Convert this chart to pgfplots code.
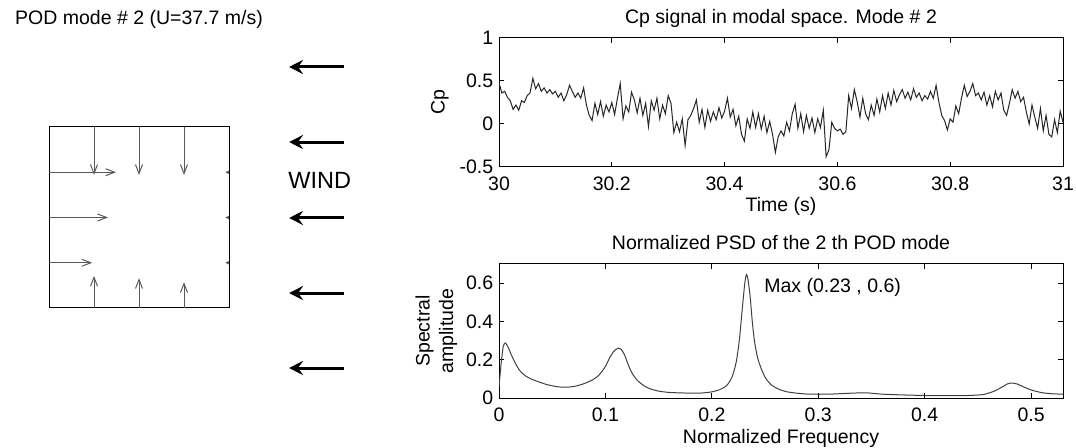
\documentclass[border=0pt]{standalone}
\usepackage{fontspec}
\setmainfont{Liberation Sans}
\usepackage{pgfplots}
\usepackage{pgfplotstable}
\pgfplotsset{compat=1.18}
\usetikzlibrary{arrows.meta}

% Cp signal, mode 2
\pgfplotstableread{
t cp
30.000 0.48
30.005 0.36
30.010 0.38
30.015 0.31
30.020 0.27
30.025 0.17
30.030 0.22
30.035 0.16
30.040 0.27
30.045 0.25
30.050 0.33
30.055 0.36
30.060 0.53
30.065 0.41
30.070 0.47
30.075 0.38
30.080 0.42
30.085 0.36
30.090 0.40
30.095 0.35
30.100 0.38
30.105 0.31
30.110 0.36
30.115 0.27
30.120 0.34
30.125 0.45
30.130 0.38
30.135 0.31
30.140 0.36
30.145 0.30
30.150 0.42
30.155 0.22
30.160 0.10
30.165 0.04
30.170 0.24
30.175 0.11
30.180 0.26
30.185 0.09
30.190 0.22
30.195 0.14
30.200 0.25
30.205 0.11
30.210 0.30
30.215 0.47
30.220 0.06
30.225 0.21
30.230 0.14
30.235 0.37
30.240 0.28
30.245 0.13
30.250 0.30
30.255 0.10
30.260 0.24
30.265 -0.03
30.270 0.27
30.275 0.16
30.280 0.30
30.285 0.06
30.290 0.22
30.295 0.12
30.300 0.33
30.305 0.24
30.310 -0.10
30.315 0.02
30.320 -0.09
30.325 0.06
30.330 -0.25
30.335 0.05
30.340 0.10
30.345 0.18
30.350 0.28
30.355 0.02
30.360 0.17
30.365 -0.04
30.370 0.16
30.375 0.03
30.380 0.14
30.385 0.05
30.390 0.19
30.395 0.07
30.400 0.15
30.405 0.30
30.410 0.08
30.415 0.17
30.420 -0.02
30.425 0.09
30.430 -0.12
30.435 -0.20
30.440 0.06
30.445 -0.05
30.450 0.14
30.455 -0.04
30.460 0.12
30.465 -0.06
30.470 0.09
30.475 -0.10
30.480 0.03
30.485 -0.12
30.490 -0.33
30.495 -0.15
30.500 -0.08
30.505 -0.14
30.510 0.02
30.515 -0.08
30.520 0.12
30.525 0.23
30.530 -0.05
30.535 0.12
30.540 -0.09
30.545 0.10
30.550 -0.05
30.555 0.07
30.560 -0.10
30.565 0.06
30.570 -0.04
30.575 0.16
30.580 -0.38
30.585 -0.30
30.590 0.02
30.595 -0.05
30.600 -0.08
30.605 -0.06
30.610 -0.12
30.615 -0.09
30.620 0.33
30.625 0.18
30.630 0.40
30.635 0.26
30.640 0.08
30.645 0.30
30.650 0.12
30.655 0.05
30.660 0.22
30.665 0.10
30.670 0.29
30.675 0.14
30.680 0.33
30.685 0.18
30.690 0.36
30.695 0.22
30.700 0.39
30.705 0.26
30.710 0.34
30.715 0.40
30.720 0.30
30.725 0.37
30.730 0.28
30.735 0.41
30.740 0.31
30.745 0.36
30.750 0.27
30.755 0.33
30.760 0.29
30.765 0.38
30.770 0.30
30.775 0.45
30.780 0.25
30.785 0.10
30.790 0.04
30.795 -0.07
30.800 0.06
30.805 0.02
30.810 0.21
30.815 0.12
30.820 0.30
30.825 0.45
30.830 0.32
30.835 0.38
30.840 0.47
30.845 0.33
30.850 0.36
30.855 0.28
30.860 0.37
30.865 0.22
30.870 0.33
30.875 0.20
30.880 0.38
30.885 0.28
30.890 0.36
30.895 0.16
30.900 0.10
30.905 0.24
30.910 0.40
30.915 0.30
30.920 0.38
30.925 0.26
30.930 0.31
30.935 0.14
30.940 0.00
30.945 0.22
30.950 0.08
30.955 -0.05
30.960 0.18
30.965 -0.08
30.970 0.10
30.975 -0.12
30.980 -0.15
30.985 0.05
30.990 -0.10
30.995 0.15
31.000 0.02
}\cpsignal

% normalized PSD
\pgfplotstableread{
f psd
0.000 0.06
0.002 0.18
0.004 0.27
0.006 0.287
0.009 0.26
0.012 0.22
0.016 0.175
0.020 0.14
0.025 0.115
0.030 0.10
0.036 0.087
0.045 0.07
0.056 0.058
0.065 0.057
0.072 0.062
0.080 0.075
0.088 0.095
0.094 0.12
0.100 0.165
0.104 0.21
0.108 0.245
0.112 0.26
0.115 0.253
0.118 0.225
0.121 0.18
0.125 0.13
0.130 0.092
0.136 0.065
0.142 0.048
0.150 0.036
0.160 0.029
0.175 0.026
0.190 0.026
0.200 0.032
0.208 0.045
0.214 0.065
0.219 0.11
0.223 0.19
0.226 0.31
0.229 0.49
0.231 0.60
0.2325 0.645
0.234 0.62
0.236 0.53
0.238 0.40
0.240 0.30
0.243 0.21
0.247 0.145
0.251 0.10
0.256 0.068
0.262 0.048
0.270 0.033
0.280 0.025
0.292 0.02
0.310 0.02
0.330 0.025
0.345 0.027
0.360 0.02
0.380 0.016
0.400 0.013
0.420 0.012
0.440 0.013
0.455 0.018
0.465 0.035
0.472 0.055
0.478 0.074
0.482 0.078
0.487 0.073
0.493 0.058
0.500 0.042
0.510 0.028
0.520 0.022
0.530 0.02
}\psdtable

% mode shape vectors on the square
\pgfplotstableread{
x y u v
1 4 0 -1.06
2 4 0 -1.06
3 4 0 -1.06
0 3 1.49 0
0 2 1.31 0
0 1 0.96 0
1 0 0 0.71
2 0 0 0.66
3 0 0 0.57
}\podvec

\pgfplotstableread{
x y u v
4 3 -0.08 0
4 2 -0.08 0
4 1 -0.08 0
}\podsmall

\pgfplotstableread{
x y u v
6.556 5.326 -1.222 0
6.556 3.668 -1.222 0
6.556 1.989 -1.222 0
6.556 0.331 -1.222 0
6.556 -1.326 -1.222 0
}\wind

\newcommand\ffont{\fontsize{9.75}{11.7}\selectfont}

\pgfplotsset{
  mat/.style={
    scale only axis, anchor=south west,
    tick align=inside, major tick length=2.5pt,
    axis line style={line width=0.5pt},
    every tick/.style={black, line width=0.5pt},
    /pgf/number format/assume math mode=true,
    /pgf/number format/fixed,
    tick label style={font=\ffont},
    label style={font=\ffont},
    title style={font=\ffont, at={(axis description cs:0.5,1)}, anchor=base, yshift=1.25pt},
    xticklabel style={yshift=-1.2pt},
    yticklabel style={xshift=0.6pt},
    xlabel style={at={(axis description cs:0.5,0)}, anchor=base, yshift=-22.5pt},
  }
}

\begin{document}
\begin{tikzpicture}
\path[use as bounding box] (0,0) rectangle (538pt,-224pt);

% mode shape
\begin{axis}[
  scale only axis, anchor=south west,
  at={(24.5pt,-154pt)}, width=90pt, height=90.5pt,
  xmin=0, xmax=4, ymin=0, ymax=4,
  xtick=\empty, ytick=\empty,
  axis line style={line width=0.5pt},
  clip=false,
  title={POD mode \# 2 (U=37.7 m/s)},
  title style={font=\ffont, at={(axis description cs:0.5,1)}, anchor=base, yshift=45pt},
]
\addplot[black!65, line width=0.5pt, -{Straight Barb[length=4.5pt,width=3.5pt]},
  quiver={u=\thisrow{u}, v=\thisrow{v}}] table[x=x, y=y] {\podvec};
\addplot[black!65, line width=0.5pt, -{Straight Barb[length=1.2pt,width=1.2pt]},
  quiver={u=\thisrow{u}, v=\thisrow{v}}] table[x=x, y=y] {\podsmall};
\addplot[black, line width=1.5pt, -{Stealth[length=7pt,width=7pt,inset=2.5pt]},
  quiver={u=\thisrow{u}, v=\thisrow{v}}] table[x=x, y=y] {\wind};
\node[anchor=west, inner sep=0pt, font=\fontsize{11.75}{14}\selectfont] at (axis cs:5.31,2.82) {WIND};
\end{axis}

% Cp signal
\begin{axis}[
  mat,
  at={(249.5pt,-83.5pt)}, width=282pt, height=64.5pt,
  xmin=30, xmax=31, ymin=-0.5, ymax=1,
  xtick={30,30.2,30.4,30.6,30.8,31},
  ytick={-0.5,0,0.5,1},
  title={Cp signal in modal space. Mode \# 2},
  xlabel={Time (s)},
  ylabel={Cp},
  ylabel style={at={(axis description cs:-0.105,0.5)}, anchor=center},
]
\addplot[black!85, line width=0.5pt] table[x=t, y=cp] {\cpsignal};
\end{axis}

% PSD
\begin{axis}[
  mat,
  at={(249.5pt,-199pt)}, width=282pt, height=67pt,
  xmin=0, xmax=0.53, ymin=0, ymax=0.7,
  xtick={0,0.1,0.2,0.3,0.4,0.5},
  ytick={0,0.2,0.4,0.6},
  title={Normalized PSD of the 2 th POD mode},
  xlabel={Normalized Frequency},
  ylabel={Spectral\\amplitude},
  ylabel style={at={(axis description cs:-0.111,0.5)}, anchor=center, align=center},
]
\addplot[black!75, line width=0.5pt, smooth, tension=0.4] table[x=f, y=psd] {\psdtable};
\node[anchor=west, inner sep=0pt, font=\ffont] at (axis cs:0.249,0.575) {Max (0.23 , 0.6)};
\end{axis}
\end{tikzpicture}
\end{document}
